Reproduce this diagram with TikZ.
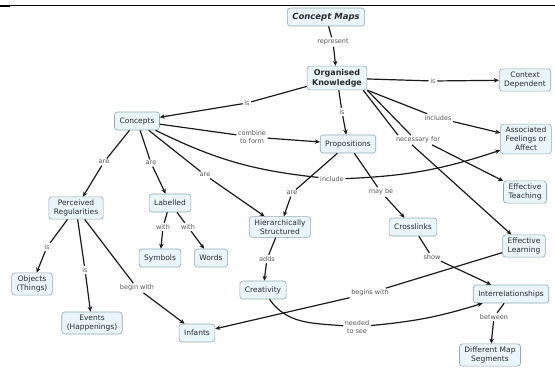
\documentclass[tikz,border=0pt]{standalone}
\usepackage{fontspec}
\setmainfont{DejaVu Sans}
\usetikzlibrary{arrows.meta, positioning}
\definecolor{cmapFill}{HTML}{E9F5F9}
\definecolor{cmapEdge}{HTML}{8EA9B8}
\definecolor{cmapInk}{HTML}{2B2B2B}
\definecolor{cmapMuted}{HTML}{555555}
\definecolor{cmapLine}{HTML}{1A1A1A}
\tikzset{
  arrowK/.style={-{Stealth[length=5pt, width=4.5pt]}, cmapLine, line width=1.2pt},
  lineK/.style={cmapLine, line width=1.2pt},
  boxC/.style={rectangle, rounded corners=3pt, draw=cmapEdge, fill=cmapFill, text=cmapInk,
               align=center, font=\fontsize{7.5}{9}\selectfont, inner xsep=5pt, inner ysep=3pt,
               minimum height=18pt, line width=0.6pt},
  boxT/.style={boxC, font=\bfseries\fontsize{8}{10}\selectfont},
  linkL/.style={font=\fontsize{6.5}{7.5}\selectfont, text=cmapMuted, align=center, inner sep=1.5pt},
}

\begin{document}
\begin{tikzpicture}[x=1pt, y=-1pt]
    \useasboundingbox (0,0) rectangle (555,376);
    \draw[line width=1pt] (10,5) -- (555,5); \draw[line width=1.6pt] (0,6) -- (10,6);
    \node[boxT, font=\bfseries\itshape\fontsize{8.5}{10}\selectfont] (cmaps) at (326,17) {Concept Maps};
    \node[boxT] (knowledge) at (337,78) {Organised\\Knowledge};
    \node[boxC] (context) at (525,80) {Context\\Dependent};
    \node[boxC] (feelings) at (526,139) {Associated\\Feelings or\\Affect};
    \node[boxC] (teaching) at (525,192) {Effective\\Teaching};
    \node[boxC] (learning) at (524,246) {Effective\\Learning};
    \node[boxC] (concepts) at (137,121) {Concepts};
    \node[boxC] (props) at (348,144) {Propositions};
    \node[boxC] (regular) at (76,208) {Perceived\\Regularities};
    \node[boxC] (labelled) at (170,203) {Labelled};
    \node[boxC] (symbols) at (160,258) {Symbols};
    \node[boxC] (words) at (211,258) {Words};
    \node[boxC] (hier) at (280,227) {Hierarchically\\Structured};
    \node[boxC] (cross) at (413,227) {Crosslinks};
    \node[boxC] (creat) at (263,290) {Creativity};
    \node[boxC] (objects) at (32,284) {Objects\\(Things)};
    \node[boxC] (events) at (92,323) {Events\\(Happenings)};
    \node[boxC] (infants) at (197,333) {Infants};
    \node[boxC] (inter) at (511,294) {Interrelationships};
    \node[boxC] (segments) at (490,355) {Different Map\\Segments};

    \node[linkL] (represent) at (333,42) {represent};
    \node[linkL] (isOK) at (247,103) {is};
    \node[linkL] (isCtx) at (433,81) {is};
    \node[linkL] (isProp) at (342,112) {is};
    \node[linkL] (includes) at (438,118) {includes};
    \node[linkL] (necessary) at (418,140) {necessary for};
    \node[linkL] (combine) at (252,137) {combine\\to form};
    \node[linkL] (include) at (332,179) {include};
    \node[linkL] (areReg) at (104,162) {are};
    \node[linkL] (areLab) at (151,163) {are};
    \node[linkL] (areHierA) at (205,175) {are};
    \node[linkL] (areHierB) at (292,193) {are};
    \node[linkL] (maybe) at (381,192) {may be};
    \node[linkL] (withSym) at (163,227) {with};
    \node[linkL] (withWord) at (188,227) {with};
    \node[linkL] (isObj) at (47,247) {is};
    \node[linkL] (isEvt) at (85,270) {is};
    \node[linkL] (beginW) at (137,288) {begin with};
    \node[linkL] (adds) at (267,259) {adds};
    \node[linkL] (show) at (432,257) {show};
    \node[linkL] (beginsW) at (370,293) {begins with};
    \node[linkL] (needed) at (357,327) {needed\\to see};
    \node[linkL] (between) at (494,317) {between};

    \draw[lineK] (cmaps) -- (represent); \draw[arrowK] (represent) -- (knowledge);
    \draw[lineK] (knowledge) -- (isOK); \draw[arrowK] (isOK) -- (concepts);
    \draw[lineK] (knowledge) -- (isCtx); \draw[arrowK] (isCtx) -- (context);
    \draw[lineK] (knowledge) -- (isProp); \draw[arrowK] (isProp) -- (props);
    \draw[lineK] (knowledge.south east) -- (includes); \draw[arrowK] (includes) -- (feelings);
    \draw[lineK] ([xshift=-4pt]knowledge.south east) -- ([xshift=-20pt]necessary.north);
    \draw[lineK] (knowledge.south east) -- ([xshift=-7pt]necessary.north);
    \draw[arrowK] ([xshift=14pt]necessary.south) -- (teaching);
    \draw[arrowK] ([xshift=-6pt]necessary.south) -- (learning);
    \draw[lineK] (concepts) -- (combine); \draw[arrowK] (combine) -- (props);
    \draw[lineK] (concepts) to[bend right=10] (include);
    \draw[arrowK] (include) to[bend right=8] ([yshift=4pt]feelings.south west);
    \draw[lineK] (concepts) -- (areReg); \draw[arrowK] (areReg) -- (regular);
    \draw[lineK] (concepts) -- (areLab); \draw[arrowK] (areLab) -- (labelled);
    \draw[lineK] (concepts) -- (areHierA); \draw[arrowK] (areHierA) -- (hier);
    \draw[lineK] (props) -- (areHierB); \draw[arrowK] (areHierB) -- (hier);
    \draw[lineK] (props) -- (maybe); \draw[arrowK] (maybe) -- (cross);
    \draw[lineK] (labelled) -- (withSym); \draw[arrowK] (withSym) -- (symbols);
    \draw[lineK] (labelled) -- (withWord); \draw[arrowK] (withWord) -- (words);
    \draw[lineK] (regular) -- (isObj); \draw[arrowK] (isObj) -- (objects);
    \draw[lineK] (regular) -- (isEvt); \draw[arrowK] (isEvt) -- (events);
    \draw[lineK] (regular) -- (beginW); \draw[arrowK] (beginW) -- (infants);
    \draw[lineK] (hier) -- (adds); \draw[arrowK] (adds) -- (creat);
    \draw[lineK] (cross) -- (show); \draw[arrowK] (show) -- (inter);
    \draw[lineK] (learning) -- (beginsW); \draw[arrowK] (beginsW) -- (infants);
    \draw[lineK] (creat) to[out=-55, in=175] (needed); \draw[arrowK] (needed) to[bend right=6] (inter);
    \draw[lineK] (inter) -- (between); \draw[arrowK] (between) -- (segments);
\end{tikzpicture}
\end{document}
